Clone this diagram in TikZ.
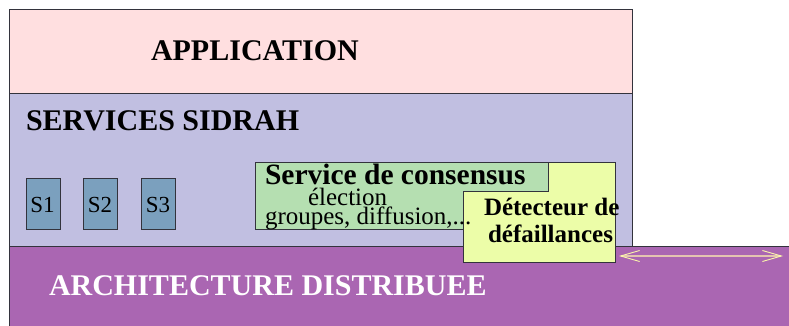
\documentclass[tikz,border=0pt]{standalone}
\usepackage{fontspec}
\setmainfont{Liberation Serif}
\usetikzlibrary{arrows.meta}
\definecolor{appfill}{RGB}{255,223,224}
\definecolor{servfill}{RGB}{193,191,225}
\definecolor{archfill}{RGB}{170,102,178}
\definecolor{sfill}{RGB}{123,160,190}
\definecolor{greenfill}{RGB}{181,223,177}
\definecolor{yellowfill}{RGB}{236,253,168}
\definecolor{edge}{RGB}{51,51,60}
\definecolor{arrline}{RGB}{228,196,176}
\definecolor{arrtip}{RGB}{250,245,170}
\tikzset{
  layer/.style={draw=edge, line width=1pt, anchor=north west, inner sep=0pt, outer sep=0pt},
  sbox/.style={layer, fill=sfill, minimum width=34pt, minimum height=51pt},
  txt/.style={anchor=base west, inner sep=0pt, outer sep=0pt},
  bigbold/.style={txt, font=\fontsize{30}{36}\selectfont\bfseries},
  midbold/.style={txt, font=\fontsize{25}{28}\selectfont\bfseries},
  midreg/.style={txt, font=\fontsize{25}{28}\selectfont},
  stxt/.style={inner sep=0pt, outer sep=0pt, anchor=base, font=\fontsize{23}{26}\selectfont},
}
\begin{document}
\begin{tikzpicture}[x=1pt,y=-1pt]
\useasboundingbox (0,0) rectangle (789,326);
% layers
\node[layer, fill=archfill, minimum width=790pt, minimum height=90pt] (arch) at (9,246) {};
\node[layer, fill=servfill, minimum width=623pt, minimum height=152pt] (serv) at (9,94) {};
\node[layer, fill=appfill, minimum width=623pt, minimum height=84pt] (app) at (9,10) {};
% S boxes
\node[sbox] (s1) at (26,178) {};
\node[sbox] (s2) at (83,178) {};
\node[sbox] (s3) at (141,178) {};
\node[stxt] (s1t) at (42.5,212) {S1};
\node[stxt] (s2t) at (100,212) {S2};
\node[stxt] (s3t) at (158,212) {S3};
% consensus
\node[layer, fill=greenfill, minimum width=293pt, minimum height=67pt] (cons) at (255,162) {};
\draw[draw=edge, line width=1pt, fill=yellowfill]
  (548,162) -- (615,162) -- (615,262) -- (463,262) -- (463,191) -- (548,191) -- cycle;
% texts
\node[bigbold] (apptxt) at (151,61) {APPLICATION};
\node[bigbold] (servtxt) at (26,131) {SERVICES SIDRAH};
\node[bigbold, text=white] (archtxt) at (49,295) {ARCHITECTURE DISTRIBUEE};
\node[txt, font=\fontsize{29.5}{32}\selectfont\bfseries] (constxt) at (265,184) {Service de consensus};
\node[midreg] (elec) at (308,205) {élection};
\node[midreg] (grp) at (265,224) {groupes, diffusion,...};
\node[midbold] (det1) at (484,215) {Détecteur de};
\node[midbold] (det2) at (488,242) {défaillances};
% arrow
\coordinate (al) at (619,256);
\coordinate (ar) at (783,256);
\draw[arrline, line width=1.8pt,
  {Straight Barb[length=19pt,width=11pt,color=arrtip,line width=0.9pt]}-{Straight Barb[length=19pt,width=11pt,color=arrtip,line width=0.9pt]}]
  (al) -- (ar);
\end{tikzpicture}
\end{document}
